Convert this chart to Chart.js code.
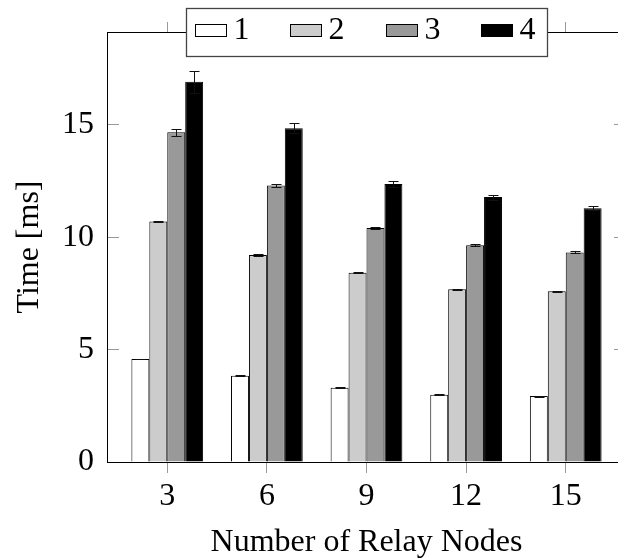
<!DOCTYPE html>
<html>
<head>
<meta charset="utf-8">
<script src="https://cdn.jsdelivr.net/npm/chart.js@4/dist/chart.umd.min.js"></script>
<style>
  body { margin: 0; background: #fff; }
  #wrap { width: 618px; height: 559px; overflow: hidden; }
</style>
</head>
<body>
<div id="wrap"><canvas id="grafico" width="640" height="559"></canvas></div>
<script>
// valores
var relayNodes = [3, 6, 9, 12, 15];
var serieNomes = ['1', '2', '3', '4'];
var tempo1 = [4.58, 3.84, 3.30, 2.99, 2.93];
var tempo2 = [10.69, 9.20, 8.42, 7.68, 7.59];
var tempo3 = [14.66, 12.30, 10.40, 9.64, 9.32];
var tempo4 = [16.91, 14.84, 12.36, 11.78, 11.28];
var erro1 = [0.02, 0.02, 0.02, 0.02, 0.02];
var erro2 = [0.04, 0.03, 0.03, 0.03, 0.03];
var erro3 = [0.15, 0.07, 0.05, 0.04, 0.04];
var erro4 = [0.49, 0.22, 0.12, 0.11, 0.09];
var yTicks = [0, 5, 10, 15];

var xMin = 1.185, xMax = 16.815, yMin = 0, yMax = 19.12;
var cores = ['#ffffff', '#cccccc', '#999999', '#000000'];
var fonte = { family: '"Liberation Serif", "Times New Roman", serif', size: 32, lineHeight: 1.05 };

function pontos(valores) {
    return relayNodes.map(function(x, i) { return { x: x, y: valores[i] }; });
}

function fixarTicks(lista) {
    return function(scale) {
        scale.ticks = lista.map(function(v) { return { value: v }; });
    };
}

var series = [tempo1, tempo2, tempo3, tempo4];
var erros = [erro1, erro2, erro3, erro4];

var datasets = series.map(function(s, i) {
    return {
        label: serieNomes[i],
        data: pontos(s),
        erros: erros[i],
        backgroundColor: cores[i],
        borderColor: '#000',
        borderWidth: 1,
        barPercentage: 1,
        categoryPercentage: 0.72
    };
});

// barras de erro desenhadas com a escala y
var errorBarsPlugin = {
    id: 'errorBars',
    afterDatasetsDraw: function(chart) {
        var ctx = chart.ctx;
        var yScale = chart.scales.y;
        ctx.save();
        ctx.strokeStyle = '#111';
        ctx.lineWidth = 1;
        chart.data.datasets.forEach(function(ds, i) {
            var meta = chart.getDatasetMeta(i);
            meta.data.forEach(function(bar, j) {
                var v = ds.data[j].y, e = ds.erros[j];
                var yTop = Math.round(yScale.getPixelForValue(v + e)) + 0.5;
                var yBot = Math.round(yScale.getPixelForValue(v - e)) + 0.5;
                var x = Math.round(bar.x) + 0.5;
                ctx.beginPath();
                ctx.moveTo(x, yTop); ctx.lineTo(x, yBot);
                ctx.moveTo(x - 5, yTop); ctx.lineTo(x + 5, yTop);
                ctx.moveTo(x - 5, yBot); ctx.lineTo(x + 5, yBot);
                ctx.stroke();
            });
        });
        ctx.restore();
    }
};

// legenda em caixa sobre a borda superior
var legendaPlugin = {
    id: 'legendaCaixa',
    afterDraw: function(chart) {
        var ctx = chart.ctx;
        var area = chart.chartArea;
        var largura = 361, altura = 48;
        var cx = (area.left + area.right) / 2;
        var x0 = Math.round(cx - largura / 2) + 0.5;
        var y0 = Math.round(area.top - 24) + 0.5;
        ctx.save();
        ctx.fillStyle = '#fff';
        ctx.fillRect(x0, y0, largura, altura);
        ctx.strokeStyle = '#444';
        ctx.lineWidth = 1.3;
        ctx.strokeRect(x0, y0, largura, altura);
        ctx.font = '32px "Liberation Serif", "Times New Roman", serif';
        ctx.textBaseline = 'middle';
        ctx.textAlign = 'left';
        chart.data.datasets.forEach(function(ds, i) {
            var sx = Math.round(x0 + 8 + i * 95.5) + 0.5;
            var sy = y0 + 16;
            ctx.fillStyle = ds.backgroundColor;
            ctx.fillRect(sx, sy, 31, 12);
            ctx.strokeStyle = '#000';
            ctx.lineWidth = 1;
            ctx.strokeRect(sx, sy, 31, 12);
            ctx.fillStyle = '#000';
            ctx.fillText(ds.label, sx + 38, sy + 6);
        });
        ctx.restore();
    }
};

var config = {
    type: 'bar',
    data: { datasets: datasets },
    options: {
        responsive: false,
        animation: false,
        layout: { padding: 0 },
        plugins: {
            legend: { display: false },
            tooltip: { enabled: false },
            title: { display: false }
        },
        scales: {
            x: {
                type: 'linear',
                position: 'bottom',
                min: xMin, max: xMax,
                offset: false,
                afterBuildTicks: fixarTicks(relayNodes),
                afterFit: function(s) { s.height = 97; s.paddingLeft = 0; s.paddingRight = 0; },
                border: { color: '#000', width: 1 },
                grid: { offset: false, drawOnChartArea: false, drawTicks: true, tickLength: 11, color: '#999' },
                ticks: { padding: 7, color: '#000', font: fonte, maxRotation: 0 },
                title: { display: true, text: 'Number of Relay Nodes', color: '#000', font: fonte, padding: { top: 0, bottom: 0 } }
            },
            x2: {
                type: 'linear',
                position: 'top',
                min: xMin, max: xMax,
                offset: false,
                afterBuildTicks: fixarTicks(relayNodes),
                afterFit: function(s) { s.height = 32; s.paddingLeft = 0; s.paddingRight = 0; },
                border: { color: '#000', width: 1 },
                grid: { offset: false, drawOnChartArea: false, drawTicks: true, tickLength: 10, color: '#999' },
                ticks: { display: false }
            },
            y: {
                type: 'linear',
                position: 'left',
                min: yMin, max: yMax,
                afterBuildTicks: fixarTicks(yTicks),
                afterFit: function(s) { s.width = 107; s.paddingTop = 0; s.paddingBottom = 0; },
                border: { color: '#000', width: 1 },
                grid: { drawOnChartArea: false, drawTicks: true, tickLength: -12, color: '#999' },
                ticks: { padding: 25, color: '#000', font: fonte },
                title: { display: true, text: 'Time [ms]', color: '#000', font: fonte, padding: { top: 13, bottom: 0 } }
            },
            y2: {
                type: 'linear',
                position: 'right',
                min: yMin, max: yMax,
                afterBuildTicks: fixarTicks(yTicks),
                afterFit: function(s) { s.width = 14; s.paddingTop = 0; s.paddingBottom = 0; },
                border: { color: '#000', width: 1 },
                grid: { drawOnChartArea: false, drawTicks: true, tickLength: -12, color: '#999' },
                ticks: { display: false }
            }
        }
    },
    plugins: [errorBarsPlugin, legendaPlugin]
};

var ctx = document.getElementById('grafico').getContext('2d');
new Chart(ctx, config);
</script>
</body>
</html>
